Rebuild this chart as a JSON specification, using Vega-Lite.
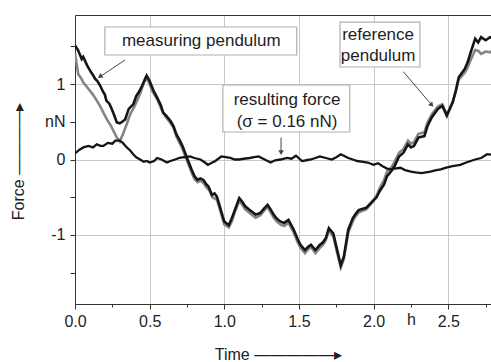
{
  "$schema": "https://vega.github.io/schema/vega-lite/v6.json",
  "width": 416,
  "height": 289,
  "autosize": {"type": "none"},
  "padding": {"left": 75, "top": 15, "right": 0, "bottom": 58},
  "background": "white",
  "config": {
    "view": {"stroke": null},
    "font": "Liberation Sans",
    "axis": {
      "domainColor": "#333333",
      "tickColor": "#333333",
      "labelColor": "#222222",
      "labelFontSize": 16,
      "titleFontSize": 16,
      "titleFontWeight": "normal",
      "titleColor": "#222222",
      "gridColor": "#c8c8c8",
      "labelOverlap": false,
      "labelFlush": false
    }
  },
  "datasets": {
    "meas": [
      {"t":0.00,"v":1.51},{"t":0.02,"v":1.45},{"t":0.045,"v":1.33},{"t":0.055,"v":1.36},{"t":0.08,"v":1.25},
      {"t":0.10,"v":1.18},{"t":0.12,"v":1.12},{"t":0.134,"v":1.07},{"t":0.15,"v":1.04},{"t":0.168,"v":0.98},
      {"t":0.18,"v":0.93},{"t":0.19,"v":0.89},{"t":0.20,"v":0.86},{"t":0.21,"v":0.78},{"t":0.23,"v":0.74},
      {"t":0.246,"v":0.67},{"t":0.26,"v":0.60},{"t":0.28,"v":0.49},{"t":0.30,"v":0.48},{"t":0.31,"v":0.49},
      {"t":0.336,"v":0.53},{"t":0.36,"v":0.67},{"t":0.375,"v":0.70},{"t":0.39,"v":0.73},{"t":0.41,"v":0.84},
      {"t":0.43,"v":0.90},{"t":0.45,"v":0.98},{"t":0.48,"v":1.11},{"t":0.50,"v":1.04},{"t":0.526,"v":0.91},
      {"t":0.54,"v":0.86},{"t":0.56,"v":0.78},{"t":0.575,"v":0.72},{"t":0.59,"v":0.62},{"t":0.61,"v":0.58},
      {"t":0.64,"v":0.51},{"t":0.66,"v":0.44},{"t":0.68,"v":0.33},{"t":0.70,"v":0.26},{"t":0.72,"v":0.18},
      {"t":0.75,"v":0.02},{"t":0.78,"v":-0.13},{"t":0.80,"v":-0.22},{"t":0.82,"v":-0.27},{"t":0.84,"v":-0.25},
      {"t":0.86,"v":-0.27},{"t":0.88,"v":-0.33},{"t":0.895,"v":-0.36},{"t":0.917,"v":-0.47},{"t":0.935,"v":-0.45},
      {"t":0.95,"v":-0.49},{"t":0.97,"v":-0.62},{"t":0.99,"v":-0.76},{"t":1.00,"v":-0.82},{"t":1.03,"v":-0.87},
      {"t":1.05,"v":-0.78},{"t":1.07,"v":-0.67},{"t":1.10,"v":-0.51},{"t":1.12,"v":-0.56},{"t":1.14,"v":-0.62},
      {"t":1.17,"v":-0.67},{"t":1.21,"v":-0.73},{"t":1.24,"v":-0.71},{"t":1.27,"v":-0.64},{"t":1.29,"v":-0.60},
      {"t":1.31,"v":-0.66},{"t":1.33,"v":-0.73},{"t":1.35,"v":-0.78},{"t":1.375,"v":-0.82},{"t":1.40,"v":-0.84},
      {"t":1.43,"v":-0.80},{"t":1.465,"v":-0.93},{"t":1.49,"v":-1.05},{"t":1.51,"v":-1.13},{"t":1.54,"v":-1.20},
      {"t":1.56,"v":-1.16},{"t":1.58,"v":-1.13},{"t":1.61,"v":-1.20},{"t":1.64,"v":-1.13},{"t":1.66,"v":-1.10},
      {"t":1.68,"v":-1.04},{"t":1.70,"v":-0.91},{"t":1.73,"v":-0.98},{"t":1.756,"v":-1.20},{"t":1.78,"v":-1.40},
      {"t":1.80,"v":-1.29},{"t":1.83,"v":-0.93},{"t":1.86,"v":-0.78},{"t":1.88,"v":-0.72},{"t":1.90,"v":-0.67},
      {"t":1.95,"v":-0.64},{"t":1.99,"v":-0.56},{"t":2.02,"v":-0.50},{"t":2.04,"v":-0.42},{"t":2.07,"v":-0.33},
      {"t":2.09,"v":-0.22},{"t":2.12,"v":-0.15},{"t":2.14,"v":-0.09},{"t":2.17,"v":0.04},{"t":2.20,"v":0.09},
      {"t":2.23,"v":0.20},{"t":2.25,"v":0.16},{"t":2.27,"v":0.18},{"t":2.30,"v":0.29},{"t":2.34,"v":0.31},
      {"t":2.36,"v":0.44},{"t":2.39,"v":0.56},{"t":2.43,"v":0.67},{"t":2.46,"v":0.71},{"t":2.49,"v":0.58},
      {"t":2.53,"v":0.76},{"t":2.55,"v":0.91},{"t":2.57,"v":1.09},{"t":2.61,"v":1.20},{"t":2.63,"v":1.29},
      {"t":2.65,"v":1.42},{"t":2.68,"v":1.60},{"t":2.70,"v":1.55},{"t":2.72,"v":1.62},{"t":2.75,"v":1.58},
      {"t":2.78,"v":1.62},{"t":2.80,"v":1.60}
    ],
    "ref": [
      {"t":0.00,"v":1.40},{"t":0.022,"v":1.13},{"t":0.04,"v":1.08},{"t":0.056,"v":1.02},{"t":0.08,"v":0.96},
      {"t":0.10,"v":0.91},{"t":0.12,"v":0.86},{"t":0.146,"v":0.78},{"t":0.17,"v":0.70},{"t":0.19,"v":0.62},
      {"t":0.22,"v":0.51},{"t":0.24,"v":0.45},{"t":0.257,"v":0.38},{"t":0.28,"v":0.29},{"t":0.30,"v":0.24},
      {"t":0.32,"v":0.33},{"t":0.347,"v":0.47},{"t":0.37,"v":0.60},{"t":0.40,"v":0.71},{"t":0.42,"v":0.80},
      {"t":0.436,"v":0.87},{"t":0.47,"v":1.07},{"t":0.49,"v":1.04},{"t":0.52,"v":0.90},{"t":0.55,"v":0.80},
      {"t":0.58,"v":0.66},{"t":0.61,"v":0.56},{"t":0.64,"v":0.48},{"t":0.66,"v":0.42},{"t":0.68,"v":0.30},
      {"t":0.72,"v":0.14},{"t":0.75,"v":-0.01},{"t":0.78,"v":-0.17},{"t":0.80,"v":-0.26},{"t":0.82,"v":-0.30},
      {"t":0.84,"v":-0.28},{"t":0.86,"v":-0.31},{"t":0.88,"v":-0.37},{"t":0.90,"v":-0.41},{"t":0.92,"v":-0.50},
      {"t":0.95,"v":-0.53},{"t":0.97,"v":-0.66},{"t":1.00,"v":-0.86},{"t":1.03,"v":-0.90},{"t":1.05,"v":-0.82},
      {"t":1.07,"v":-0.70},{"t":1.10,"v":-0.55},{"t":1.12,"v":-0.60},{"t":1.14,"v":-0.66},{"t":1.17,"v":-0.71},
      {"t":1.21,"v":-0.77},{"t":1.24,"v":-0.74},{"t":1.27,"v":-0.67},{"t":1.29,"v":-0.63},{"t":1.31,"v":-0.70},
      {"t":1.33,"v":-0.77},{"t":1.35,"v":-0.82},{"t":1.375,"v":-0.86},{"t":1.40,"v":-0.88},{"t":1.43,"v":-0.84},
      {"t":1.465,"v":-0.97},{"t":1.49,"v":-1.09},{"t":1.51,"v":-1.17},{"t":1.54,"v":-1.24},{"t":1.56,"v":-1.19},
      {"t":1.58,"v":-1.16},{"t":1.61,"v":-1.24},{"t":1.64,"v":-1.17},{"t":1.66,"v":-1.13},{"t":1.68,"v":-1.07},
      {"t":1.70,"v":-0.94},{"t":1.73,"v":-1.02},{"t":1.756,"v":-1.24},{"t":1.78,"v":-1.43},{"t":1.80,"v":-1.32},
      {"t":1.83,"v":-0.97},{"t":1.86,"v":-0.82},{"t":1.88,"v":-0.75},{"t":1.90,"v":-0.70},{"t":1.95,"v":-0.66},
      {"t":1.99,"v":-0.57},{"t":2.02,"v":-0.48},{"t":2.04,"v":-0.38},{"t":2.07,"v":-0.27},{"t":2.09,"v":-0.16},
      {"t":2.12,"v":-0.10},{"t":2.14,"v":-0.03},{"t":2.17,"v":0.09},{"t":2.20,"v":0.14},{"t":2.23,"v":0.25},
      {"t":2.25,"v":0.21},{"t":2.27,"v":0.23},{"t":2.30,"v":0.34},{"t":2.34,"v":0.36},{"t":2.36,"v":0.49},
      {"t":2.39,"v":0.60},{"t":2.43,"v":0.70},{"t":2.46,"v":0.73},{"t":2.49,"v":0.60},{"t":2.53,"v":0.76},
      {"t":2.55,"v":0.90},{"t":2.57,"v":1.06},{"t":2.61,"v":1.15},{"t":2.63,"v":1.22},{"t":2.65,"v":1.32},
      {"t":2.68,"v":1.45},{"t":2.70,"v":1.44},{"t":2.72,"v":1.40},{"t":2.75,"v":1.43},{"t":2.78,"v":1.42},
      {"t":2.80,"v":1.45}
    ],
    "force": [
      {"t":0.00,"v":0.08},{"t":0.03,"v":0.13},{"t":0.056,"v":0.16},{"t":0.09,"v":0.18},{"t":0.12,"v":0.16},
      {"t":0.146,"v":0.20},{"t":0.17,"v":0.18},{"t":0.19,"v":0.18},{"t":0.22,"v":0.22},{"t":0.25,"v":0.21},
      {"t":0.27,"v":0.25},{"t":0.30,"v":0.25},{"t":0.32,"v":0.22},{"t":0.347,"v":0.16},{"t":0.37,"v":0.12},
      {"t":0.39,"v":0.07},{"t":0.41,"v":0.03},{"t":0.436,"v":0.0},{"t":0.46,"v":-0.03},{"t":0.48,"v":-0.02},
      {"t":0.50,"v":-0.04},{"t":0.53,"v":-0.02},{"t":0.55,"v":0.02},{"t":0.58,"v":0.0},{"t":0.615,"v":-0.04},
      {"t":0.64,"v":-0.02},{"t":0.67,"v":0.0},{"t":0.70,"v":0.02},{"t":0.73,"v":0.03},{"t":0.77,"v":0.04},
      {"t":0.80,"v":0.02},{"t":0.84,"v":0.0},{"t":0.87,"v":-0.04},{"t":0.89,"v":-0.07},{"t":0.91,"v":-0.05},
      {"t":0.94,"v":-0.02},{"t":0.98,"v":0.04},{"t":1.01,"v":0.03},{"t":1.04,"v":0.02},{"t":1.07,"v":0.0},
      {"t":1.10,"v":0.0},{"t":1.13,"v":0.01},{"t":1.17,"v":0.02},{"t":1.20,"v":0.03},{"t":1.23,"v":0.04},
      {"t":1.26,"v":0.01},{"t":1.29,"v":-0.02},{"t":1.31,"v":-0.04},{"t":1.34,"v":-0.01},{"t":1.376,"v":0.0},
      {"t":1.42,"v":0.02},{"t":1.45,"v":0.01},{"t":1.48,"v":0.05},{"t":1.52,"v":-0.02},{"t":1.55,"v":-0.01},
      {"t":1.58,"v":0.0},{"t":1.61,"v":0.02},{"t":1.64,"v":0.04},{"t":1.68,"v":0.02},{"t":1.72,"v":0.0},
      {"t":1.75,"v":0.03},{"t":1.78,"v":0.07},{"t":1.81,"v":0.04},{"t":1.83,"v":0.02},{"t":1.86,"v":0.0},
      {"t":1.89,"v":-0.02},{"t":1.93,"v":-0.03},{"t":1.96,"v":-0.04},{"t":2.00,"v":-0.07},{"t":2.03,"v":-0.05},
      {"t":2.06,"v":-0.09},{"t":2.09,"v":-0.12},{"t":2.11,"v":-0.13},{"t":2.14,"v":-0.12},{"t":2.18,"v":-0.11},
      {"t":2.21,"v":-0.14},{"t":2.25,"v":-0.16},{"t":2.28,"v":-0.17},{"t":2.32,"v":-0.18},{"t":2.35,"v":-0.17},
      {"t":2.38,"v":-0.16},{"t":2.42,"v":-0.14},{"t":2.45,"v":-0.13},{"t":2.48,"v":-0.11},{"t":2.52,"v":-0.09},
      {"t":2.55,"v":-0.08},{"t":2.58,"v":-0.07},{"t":2.62,"v":-0.04},{"t":2.65,"v":-0.02},{"t":2.68,"v":0.0},
      {"t":2.72,"v":0.02},{"t":2.76,"v":0.07},{"t":2.80,"v":0.06}
    ],
    "boxes": [
      {"x1":0.20,"x2":1.485,"y1":1.755,"y2":1.384},
      {"x1":1.775,"x2":2.31,"y1":1.82,"y2":1.225},
      {"x1":0.99,"x2":1.84,"y1":0.987,"y2":0.364}
    ],
    "labels": [
      {"x":0.846,"y":1.57,"text":"measuring pendulum"},
      {"x":2.03,"y":1.65,"text":"reference"},
      {"x":2.03,"y":1.37,"text":"pendulum"},
      {"x":1.42,"y":0.79,"text":"resulting force"},
      {"x":1.42,"y":0.50,"text":"(σ = 0.16 nN)"}
    ],
    "arrows": [
      {"name":"meas","x1":0.335,"y1":1.318,"x2":0.167,"y2":1.097},
      {"name":"ref","x1":2.199,"y1":1.163,"x2":2.389,"y2":0.722},
      {"name":"force","x1":1.38,"y1":0.29,"x2":1.38,"y2":0.09}
    ]
  },
  "layer": [
    {
      "data": {"name": "ref"},
      "mark": {"type": "line", "color": "#858585", "strokeWidth": 2.6, "clip": true},
      "encoding": {
        "x": {
          "field": "t", "type": "quantitative",
          "scale": {"domain": [0, 2.786], "nice": false, "zero": false},
          "axis": {
            "values": [0, 0.25, 0.5, 0.75, 1, 1.25, 1.5, 1.75, 2, 2.25, 2.5, 2.75],
            "labelExpr": "datum.value == 2.25 ? 'h' : (datum.value % 0.5 == 0 ? format(datum.value, '.1f') : '')",
            "grid": true,
            "gridOpacity": {"condition": {"test": "datum.value % 0.5 == 0", "value": 1}, "value": 0},
            "tickSize": {"condition": {"test": "datum.value % 0.5 == 0", "value": 5}, "value": 3},
            "labelPadding": 4,
            "title": "Time    —————▸",
            "titleX": 203,
            "titleY": 55,
            "titleAlign": "center",
            "titleBaseline": "alphabetic"
          }
        },
        "y": {
          "field": "v", "type": "quantitative",
          "scale": {"domain": [-1.914, 1.914], "nice": false, "zero": false},
          "axis": {
            "values": [-1.5, -1, -0.5, 0, 0.5, 1, 1.5],
            "labelExpr": "datum.value == 0.5 ? 'nN' : datum.value == 1 ? '1' : datum.value == 0 ? '0' : datum.value == -1 ? '-1' : ''",
            "grid": true,
            "gridOpacity": {"condition": {"test": "datum.value % 1 == 0", "value": 1}, "value": 0},
            "tickSize": 5,
            "labelPadding": 5,
            "title": "Force   ————▸",
            "titleAngle": -90,
            "titleX": -52,
            "titleY": 146,
            "titleAlign": "center",
            "titleBaseline": "alphabetic"
          }
        }
      }
    },
    {
      "data": {"name": "meas"},
      "mark": {"type": "line", "color": "#151515", "strokeWidth": 2.6, "clip": true},
      "encoding": {
        "x": {"field": "t", "type": "quantitative", "axis": {"orient": "top", "labels": false, "ticks": false, "grid": false, "title": null, "domainColor": "#333333"}},
        "y": {"field": "v", "type": "quantitative"}
      }
    },
    {
      "data": {"name": "force"},
      "mark": {"type": "line", "color": "#151515", "strokeWidth": 2.3, "clip": true},
      "encoding": {
        "x": {"field": "t", "type": "quantitative", "axis": null},
        "y": {"field": "v", "type": "quantitative"}
      }
    },
    {
      "data": {"name": "boxes"},
      "mark": {"type": "rect", "fill": "white", "stroke": "#b0b0b0", "strokeWidth": 1.2},
      "encoding": {
        "x": {"field": "x1", "type": "quantitative", "axis": null},
        "x2": {"field": "x2"},
        "y": {"field": "y1", "type": "quantitative"},
        "y2": {"field": "y2"}
      }
    },
    {
      "data": {"name": "arrows"},
      "mark": {"type": "rule", "color": "#444444", "strokeWidth": 1},
      "encoding": {
        "x": {"field": "x1", "type": "quantitative", "axis": null},
        "x2": {"field": "x2"},
        "y": {"field": "y1", "type": "quantitative"},
        "y2": {"field": "y2"}
      }
    },
    {
      "data": {"name": "arrows"},
      "transform": [{"filter": "datum.name == 'meas'"}],
      "mark": {"type": "point", "shape": "triangle-up", "filled": true, "color": "#444444", "size": 30, "angle": 236, "opacity": 1},
      "encoding": {
        "x": {"field": "x2", "type": "quantitative", "axis": null},
        "y": {"field": "y2", "type": "quantitative"}
      }
    },
    {
      "data": {"name": "arrows"},
      "transform": [{"filter": "datum.name == 'ref'"}],
      "mark": {"type": "point", "shape": "triangle-up", "filled": true, "color": "#444444", "size": 30, "angle": 140, "opacity": 1},
      "encoding": {
        "x": {"field": "x2", "type": "quantitative", "axis": null},
        "y": {"field": "y2", "type": "quantitative"}
      }
    },
    {
      "data": {"name": "arrows"},
      "transform": [{"filter": "datum.name == 'force'"}],
      "mark": {"type": "point", "shape": "triangle-up", "filled": true, "color": "#444444", "size": 30, "angle": 180, "opacity": 1},
      "encoding": {
        "x": {"field": "x2", "type": "quantitative", "axis": null},
        "y": {"field": "y2", "type": "quantitative"}
      }
    },
    {
      "data": {"name": "labels"},
      "mark": {"type": "text", "fontSize": 17, "color": "#1e1e1e", "align": "center", "baseline": "middle"},
      "encoding": {
        "x": {"field": "x", "type": "quantitative", "axis": null},
        "y": {"field": "y", "type": "quantitative"},
        "text": {"field": "text"}
      }
    }
  ],
  "resolve": {"axis": {"x": "independent"}}
}
